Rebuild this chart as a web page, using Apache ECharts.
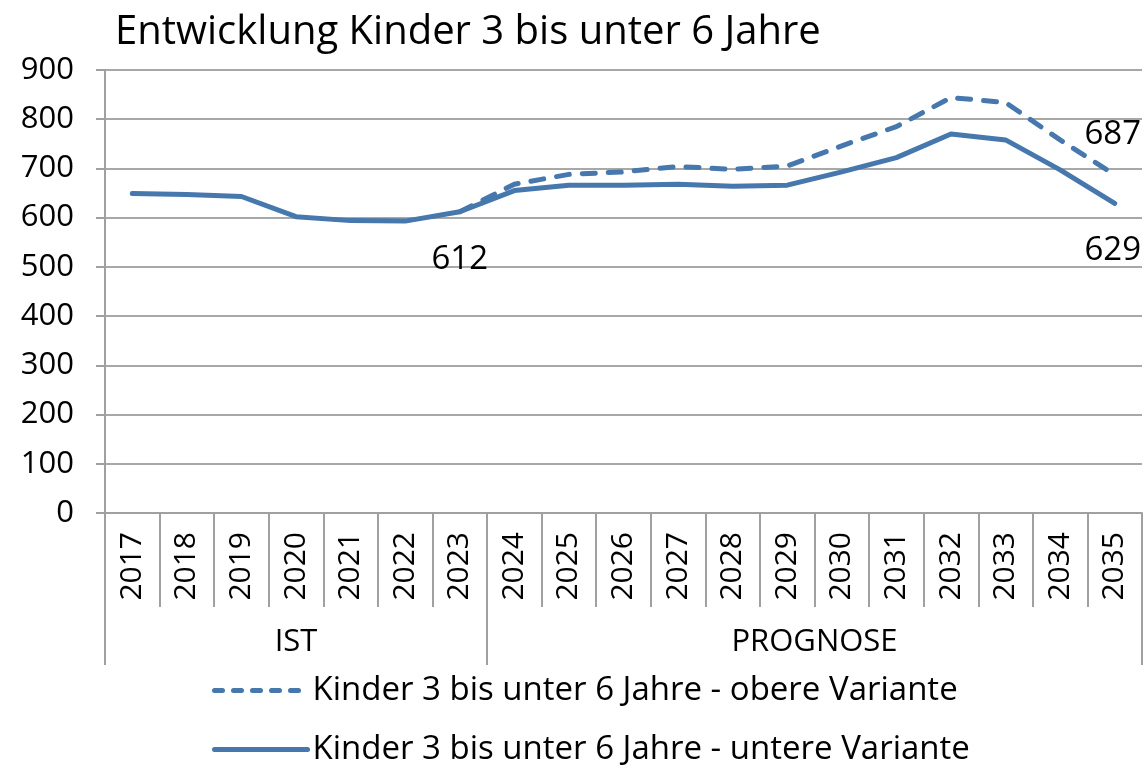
<!DOCTYPE html>
<html>
<head>
<meta charset="utf-8">
<script src="https://cdn.jsdelivr.net/npm/echarts@6/dist/echarts.min.js"></script>
<style>html,body{margin:0;padding:0;background:#fff}#c{width:1147px;height:769px}</style>
</head>
<body>
<div id="c"></div>
<script>
const years = ['2017','2018','2019','2020','2021','2022','2023','2024','2025','2026','2027','2028','2029','2030','2031','2032','2033','2034','2035'];
const obereVariante = [null,null,null,null,null,null,612,668,688,693,704,698,705,746,785,844,834,758,687];
const untereVariante = [649,647,643,602,594,593,612,655,666,666,668,664,666,693,722,770,758,697,629];
const groups = ['IST','PROGNOSE'];
const groupSpans = [7,12];
const labelledObere = {18:'top'};
const labelledUntere = {6:'bottom',18:'bottom'};
const seriesNames = ['Kinder 3 bis unter 6 Jahre - obere Variante','Kinder 3 bis unter 6 Jahre - untere Variante'];

const FONT = 'Open Sans';
const BLUE = '#4677AD';
const GRAY = '#a0a0a0';

// half-year slots for the group axis
const halfSlots = [];
const groupTickIdx = [0];
let acc = 0;
for (let i = 0; i <= 2*years.length; i++) halfSlots.push('');
groups.forEach((g, k) => {
  halfSlots[acc*2 + groupSpans[k]] = g;
  acc += groupSpans[k];
  groupTickIdx.push(acc*2);
});

function withLabels(arr, spec) {
  return arr.map((v, i) => spec[i] ? {value: v, label: {show: true, position: spec[i],
    distance: spec[i] === 'top' ? 24 : 31,
    offset: i === arr.length - 1 ? [-2, 0] : [0, 0],
    fontSize: 33, fontFamily: FONT, color: '#000'}} : v);
}

const chart = echarts.init(document.getElementById('c'));
chart.setOption({
  animation: false,
  title: {text: 'Entwicklung Kinder 3 bis unter 6 Jahre', left: 110, top: 8,
    textStyle: {fontFamily: FONT, fontSize: 40, fontWeight: 'normal', color: '#000'}},
  grid: {left: 105, right: 5, top: 70, bottom: 256},
  legend: {orient: 'vertical', left: 212, top: 674, padding: 0, itemGap: 26, itemWidth: 93, itemHeight: 14,
    itemStyle: {opacity: 0},
    textStyle: {fontFamily: FONT, fontSize: 33, lineHeight: 33, color: '#000'},
    data: [
      {name: seriesNames[0], lineStyle: {width: 5, type: [8, 11], cap: 'round', color: BLUE}},
      {name: seriesNames[1], lineStyle: {width: 5, type: 'solid', cap: 'round', color: BLUE}}
    ]},
  xAxis: [
    {type: 'category', data: years, boundaryGap: true,
      axisLine: {show: true, lineStyle: {color: GRAY, width: 2}},
      axisTick: {show: true, interval: 0, length: 94, lineStyle: {color: GRAY, width: 2}},
      axisLabel: {interval: 0, rotate: 90, margin: 19, fontFamily: FONT, fontSize: 30, color: '#000'}},
    {type: 'category', data: halfSlots, boundaryGap: false, position: 'bottom', offset: 0,
      axisLine: {show: false},
      axisTick: {show: true, length: 152, interval: (i) => groupTickIdx.indexOf(i) >= 0, lineStyle: {color: GRAY, width: 2}},
      axisLabel: {interval: 0, margin: 114, fontFamily: FONT, fontSize: 31, color: '#000'}}
  ],
  yAxis: {type: 'value', min: 0, max: 900, interval: 100,
    axisLine: {show: true, lineStyle: {color: GRAY, width: 2}},
    axisTick: {show: true, length: 9, lineStyle: {color: GRAY, width: 2}},
    axisLabel: {margin: 31, fontFamily: FONT, fontSize: 31, color: '#000'},
    splitLine: {lineStyle: {color: '#a8a8a8', width: 2}}},
  series: [
    {name: seriesNames[0], type: 'line', xAxisIndex: 0,
      data: withLabels(obereVariante, labelledObere), showSymbol: true, symbol: 'circle', symbolSize: 0,
      lineStyle: {color: BLUE, width: 5, type: [13, 13], cap: 'round'}, itemStyle: {color: BLUE}, z: 2},
    {name: seriesNames[1], type: 'line', xAxisIndex: 0,
      data: withLabels(untereVariante, labelledUntere), showSymbol: true, symbol: 'circle', symbolSize: 0,
      lineStyle: {color: BLUE, width: 5, cap: 'round'}, itemStyle: {color: BLUE}, z: 3}
  ]
});
</script>
</body>
</html>
